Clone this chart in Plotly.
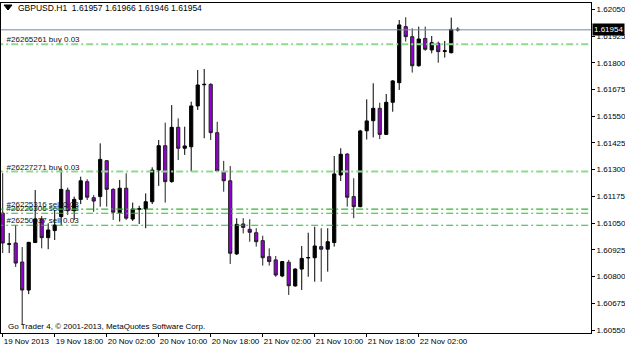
import pandas as pd
import plotly.graph_objects as go

# ---------------- data ----------------
times = pd.date_range("2013-11-19 10:00", periods=71, freq="h")

open_ = [1.61097, 1.60951, 1.60957, 1.60868, 1.60737, 1.60959, 1.61069, 1.60982, 1.61015, 1.61080,
         1.61204, 1.61108, 1.61161, 1.61244, 1.61169, 1.61174, 1.61342, 1.61208, 1.61099, 1.61213,
         1.61069, 1.61115, 1.61116, 1.61150, 1.61298, 1.61412, 1.61244, 1.61498, 1.61400, 1.61407,
         1.61598, 1.61697, 1.61699, 1.61473, 1.61291, 1.61248, 1.60906, 1.61046, 1.61021, 1.61005,
         1.60968, 1.60893, 1.60878, 1.60803, 1.60867, 1.60756, 1.60835, 1.60887, 1.60888, 1.60940,
         1.60928, 1.60959, 1.61275, 1.61373, 1.61174, 1.61127, 1.61482, 1.61529, 1.61587, 1.61465,
         1.61615, 1.61707, 1.61969, 1.61922, 1.61786, 1.61914, 1.61860, 1.61891, 1.61853, 1.61847,
         1.61957]
high = [1.61284, 1.61004, 1.61041, 1.60938, 1.60962, 1.61205, 1.61083, 1.61049, 1.61111, 1.61306,
        1.61216, 1.61174, 1.61267, 1.61255, 1.61181, 1.61423, 1.61345, 1.61213, 1.61252, 1.61283,
        1.61146, 1.61131, 1.61189, 1.61311, 1.61439, 1.61520, 1.61602, 1.61540, 1.61501, 1.61618,
        1.61766, 1.61771, 1.61704, 1.61524, 1.61341, 1.61317, 1.61073, 1.61073, 1.61068, 1.61026,
        1.60991, 1.60932, 1.60896, 1.60872, 1.60878, 1.60839, 1.60943, 1.61005, 1.61033, 1.61026,
        1.61026, 1.61364, 1.61400, 1.61377, 1.61260, 1.61486, 1.61629, 1.61704, 1.61613, 1.61654,
        1.61719, 1.62000, 1.62013, 1.61961, 1.61969, 1.61969, 1.61925, 1.61899, 1.61902, 1.62011,
        1.61966]
low = [1.60910, 1.60910, 1.60845, 1.60574, 1.60718, 1.60957, 1.60932, 1.60928, 1.60971, 1.61041,
       1.61088, 1.61065, 1.61139, 1.61158, 1.61103, 1.61127, 1.61127, 1.61065, 1.61057, 1.61065,
       1.61060, 1.61046, 1.61026, 1.61139, 1.61224, 1.61146, 1.61239, 1.61345, 1.61369, 1.61291,
       1.61579, 1.61447, 1.61439, 1.61291, 1.61197, 1.60859, 1.60901, 1.61002, 1.60963, 1.60940,
       1.60851, 1.60851, 1.60799, 1.60797, 1.60714, 1.60753, 1.60737, 1.60799, 1.60776, 1.60776,
       1.60823, 1.60940, 1.61247, 1.61127, 1.61073, 1.61124, 1.61441, 1.61451, 1.61443, 1.61462,
       1.61571, 1.61673, 1.61899, 1.61754, 1.61782, 1.61856, 1.61844, 1.61800, 1.61824, 1.61844,
       1.61946]
close = [1.60957, 1.60953, 1.60863, 1.60737, 1.60960, 1.61069, 1.60982, 1.61018, 1.61041, 1.61208,
         1.61108, 1.61161, 1.61248, 1.61171, 1.61153, 1.61348, 1.61208, 1.61101, 1.61213, 1.61073,
         1.61116, 1.61117, 1.61150, 1.61298, 1.61412, 1.61244, 1.61498, 1.61400, 1.61411, 1.61598,
         1.61696, 1.61699, 1.61473, 1.61294, 1.61248, 1.60909, 1.61044, 1.61030, 1.61007, 1.60963,
         1.60888, 1.60870, 1.60807, 1.60870, 1.60757, 1.60835, 1.60885, 1.60889, 1.60943, 1.60928,
         1.60963, 1.61280, 1.61372, 1.61171, 1.61127, 1.61481, 1.61528, 1.61587, 1.61465, 1.61615,
         1.61715, 1.61977, 1.61922, 1.61786, 1.61911, 1.61863, 1.61894, 1.61852, 1.61856, 1.61956,
         1.61954]

bid_price = 1.61954
order_labels = ["#26265261 buy 0.03", "#26227271 buy 0.03", "#26225316 sell 0.03",
                "#26226306 sell 0.03", "#26250937 sell 0.03"]
order_prices = [1.61886, 1.61291, 1.61115, 1.61096, 1.61040]
order_kinds = ["buy", "buy", "sell", "sell", "sell"]

y_ticks = [1.60550, 1.60675, 1.60800, 1.60925, 1.61050, 1.61175, 1.61300,
           1.61425, 1.61550, 1.61675, 1.61800, 1.61925, 1.62050]
x_tick_times = ["2013-11-19 10:00", "2013-11-19 18:00", "2013-11-20 02:00", "2013-11-20 10:00",
                "2013-11-20 18:00", "2013-11-21 02:00", "2013-11-21 10:00", "2013-11-21 18:00",
                "2013-11-22 02:00"]
x_tick_text = ["19 Nov 2013", "19 Nov 18:00", "20 Nov 02:00", "20 Nov 10:00", "20 Nov 18:00",
               "21 Nov 02:00", "21 Nov 10:00", "21 Nov 18:00", "22 Nov 02:00"]

# ---------------- style ----------------
FONT = "Liberation Sans, Arial, sans-serif"
BUY_COLOR = "#8fd98f"
SELL_COLOR = "#2fb82f"
BULL = "#000000"
BEAR = "#9400d3"

t0 = times[0]
x_range = [t0 - pd.Timedelta(hours=0.26), t0 + pd.Timedelta(hours=90.5)]
line_start = t0 - pd.Timedelta(hours=1)
line_end = t0 + pd.Timedelta(hours=95)

fig = go.Figure()

# order labels (drawn beneath candles)
label_x = t0 + pd.Timedelta(hours=0.6)
for lab, pr in zip(order_labels, order_prices):
    fig.add_trace(go.Scatter(x=[label_x], y=[pr], mode="text", text=[lab],
                             textposition="top right",
                             textfont=dict(family=FONT, size=8, color="#111111"),
                             hoverinfo="skip", showlegend=False))

# order lines
for pr, kind in zip(order_prices, order_kinds):
    fig.add_trace(go.Scatter(x=[line_start, line_end], y=[pr, pr], mode="lines",
                             line=dict(color=BUY_COLOR if kind == "buy" else SELL_COLOR,
                                       width=2 if kind == "buy" else 1.2,
                                       dash="7px,3px,2px,3px"),
                             hoverinfo="skip", showlegend=False))

# bid line
fig.add_trace(go.Scatter(x=[line_start, line_end], y=[bid_price, bid_price], mode="lines",
                         line=dict(color="#778899", width=1), hoverinfo="skip", showlegend=False))

fig.add_trace(go.Candlestick(
    x=times, open=open_, high=high, low=low, close=close,
    increasing=dict(line=dict(color=BULL, width=1), fillcolor=BULL),
    decreasing=dict(line=dict(color="#202020", width=1), fillcolor=BEAR),
    whiskerwidth=0, showlegend=False, hoverinfo="skip"))

fig.update_layout(
    width=625, height=348,
    margin=dict(l=1, r=34, t=3, b=15, autoexpand=False),
    paper_bgcolor="white", plot_bgcolor="white",
    font=dict(family=FONT, size=8, color="black"),
    showlegend=False,
)
fig.update_xaxes(
    type="date", range=x_range, rangeslider_visible=False,
    showgrid=False, zeroline=False, automargin=False,
    showline=True, mirror=True, linecolor="black", linewidth=1,
    tickmode="array", tickvals=x_tick_times, ticktext=x_tick_text,
    ticks="outside", ticklen=3, tickcolor="black", tickangle=0,
    ticklabelposition="outside right", ticklabelstandoff=0,
    tickfont=dict(family=FONT, size=8, color="black"),
)
fig.update_yaxes(
    side="right", range=[1.60536, 1.620795],
    showgrid=False, zeroline=False, automargin=False,
    showline=True, mirror=True, linecolor="black", linewidth=1,
    tickmode="array", tickvals=y_ticks, ticktext=[f"{v:.5f}" for v in y_ticks],
    ticks="outside", ticklen=3, tickcolor="black",
    tickfont=dict(family=FONT, size=8, color="black"),
)

# bid price tag
fig.add_annotation(x=1, xref="paper", xanchor="left", xshift=1,
                   y=bid_price, yref="y", yanchor="middle",
                   text=f"{bid_price:.5f}", showarrow=False,
                   bgcolor="black", borderpad=1,
                   font=dict(family=FONT, size=8, color="white"))

# header text
fig.add_annotation(x=15 / 590, xref="paper", xanchor="left",
                   y=1 - 5 / 330, yref="paper", yanchor="middle",
                   text="GBPUSD.H1  1.61957 1.61966 1.61946 1.61954", showarrow=False,
                   font=dict(family=FONT, size=8.5, color="black"))
# header icon
px = lambda v: (v - 1) / 590
py = lambda v: 1 - (v - 3) / 330
fig.add_shape(type="path",
              path=f"M {px(4)} {py(5)} L {px(12)} {py(5)} L {px(8)} {py(10)} Z",
              xref="paper", yref="paper", fillcolor="black", line=dict(color="black", width=1))

# footer
fig.add_annotation(x=5 / 590, xref="paper", xanchor="left",
                   y=1 - 323 / 330, yref="paper", yanchor="middle",
                   text="Go Trader 4, \u00a9 2001-2013, MetaQuotes Software Corp.", showarrow=False,
                   font=dict(family=FONT, size=8, color="black"))

fig.write_html("out.html")
